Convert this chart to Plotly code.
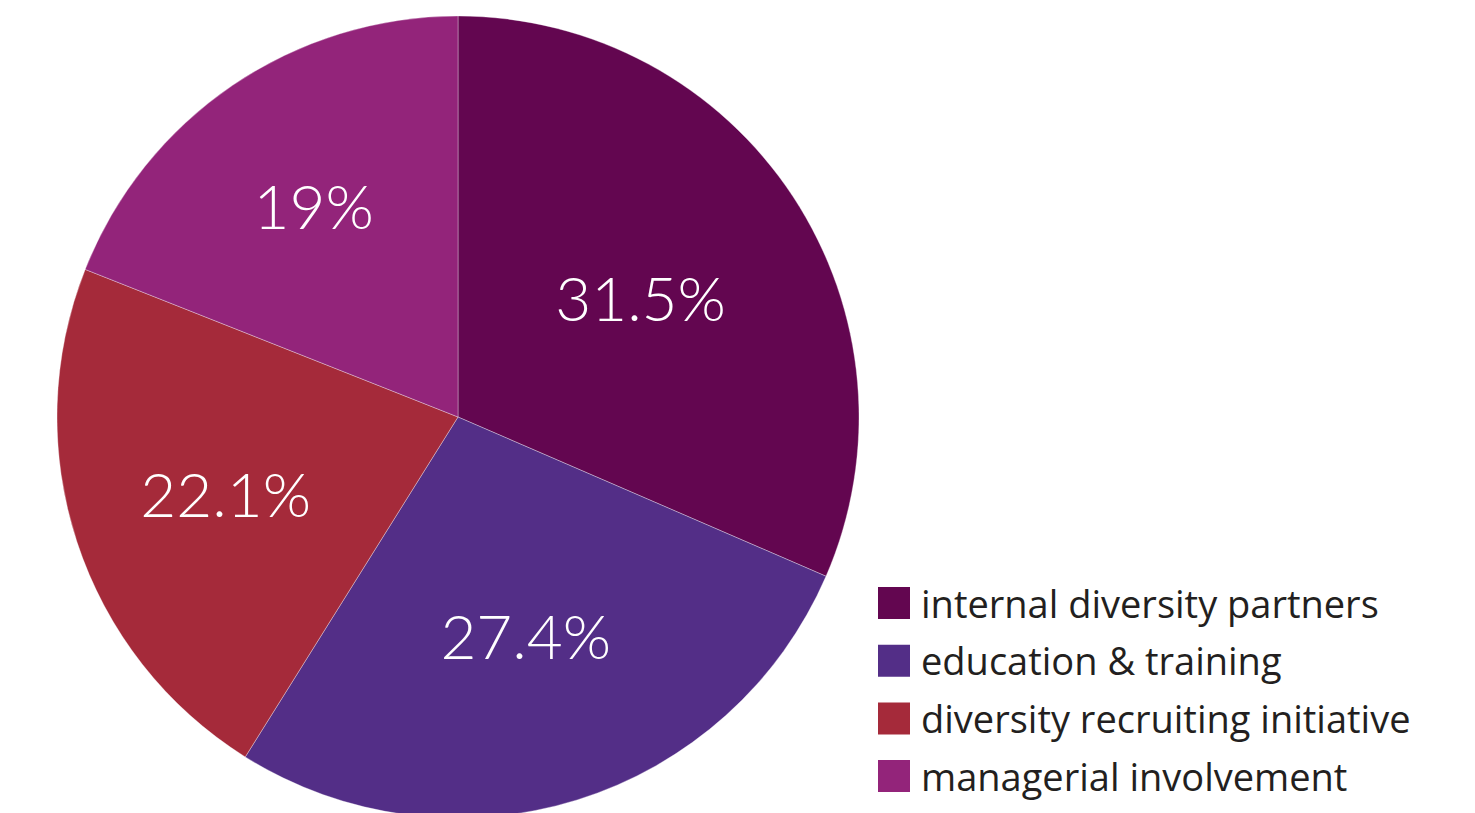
import plotly.graph_objects as go

categories = ["internal diversity partners", "education & training",
              "diversity recruiting initiative", "managerial involvement"]
values = [31.5, 27.4, 22.1, 19]
value_labels = ["31.5%", "27.4%", "22.1%", "19%"]
colors = ["#630650", "#532E87", "#A52A3A", "#93247A"]

W, H = 1475, 830
CX, TOP, R = 458, 16, 401

fig = go.Figure()
fig.add_trace(go.Pie(
    labels=categories, values=values, sort=False, direction="clockwise", rotation=0,
    marker=dict(colors=colors, line=dict(color="rgba(255,255,255,0.55)", width=0.6)),
    text=value_labels, textinfo="text", textposition="inside",
    insidetextorientation="horizontal",
    textfont=dict(family="Lato", size=62, color="white", weight=300),
    domain=dict(x=[(CX - R) / W, (CX + R) / W], y=[1 - (TOP + 2 * R) / H, 1 - TOP / H]),
    showlegend=False, hoverinfo="skip",
))

# custom legend (large square swatches)
leg_x, leg_y0, leg_dy = 894, 603, 57.7
ys = [leg_y0 + i * leg_dy for i in range(len(categories))]
fig.add_trace(go.Scatter(
    x=[leg_x] * len(categories), y=ys, mode="markers",
    marker=dict(symbol="square", size=32, color=colors, line=dict(width=0)),
    showlegend=False, hoverinfo="skip", xaxis="x", yaxis="y",
))
fig.add_trace(go.Scatter(
    x=[leg_x + 27] * len(categories), y=[y + 5 for y in ys], mode="text", text=categories,
    textposition="middle right",
    textfont=dict(family="Open Sans", size=38, color="#231F20"),
    showlegend=False, hoverinfo="skip", xaxis="x", yaxis="y",
))

fig.update_layout(
    width=W, height=H, margin=dict(l=0, r=0, t=0, b=0),
    paper_bgcolor="white", plot_bgcolor="rgba(0,0,0,0)",
    xaxis=dict(range=[0, W], visible=False, fixedrange=True),
    yaxis=dict(range=[H, 0], visible=False, fixedrange=True),
    showlegend=False,
)

fig.write_html("out.html", config={"displayModeBar": False},
               post_script="document.body.style.margin='0';document.body.style.overflow='hidden';")
